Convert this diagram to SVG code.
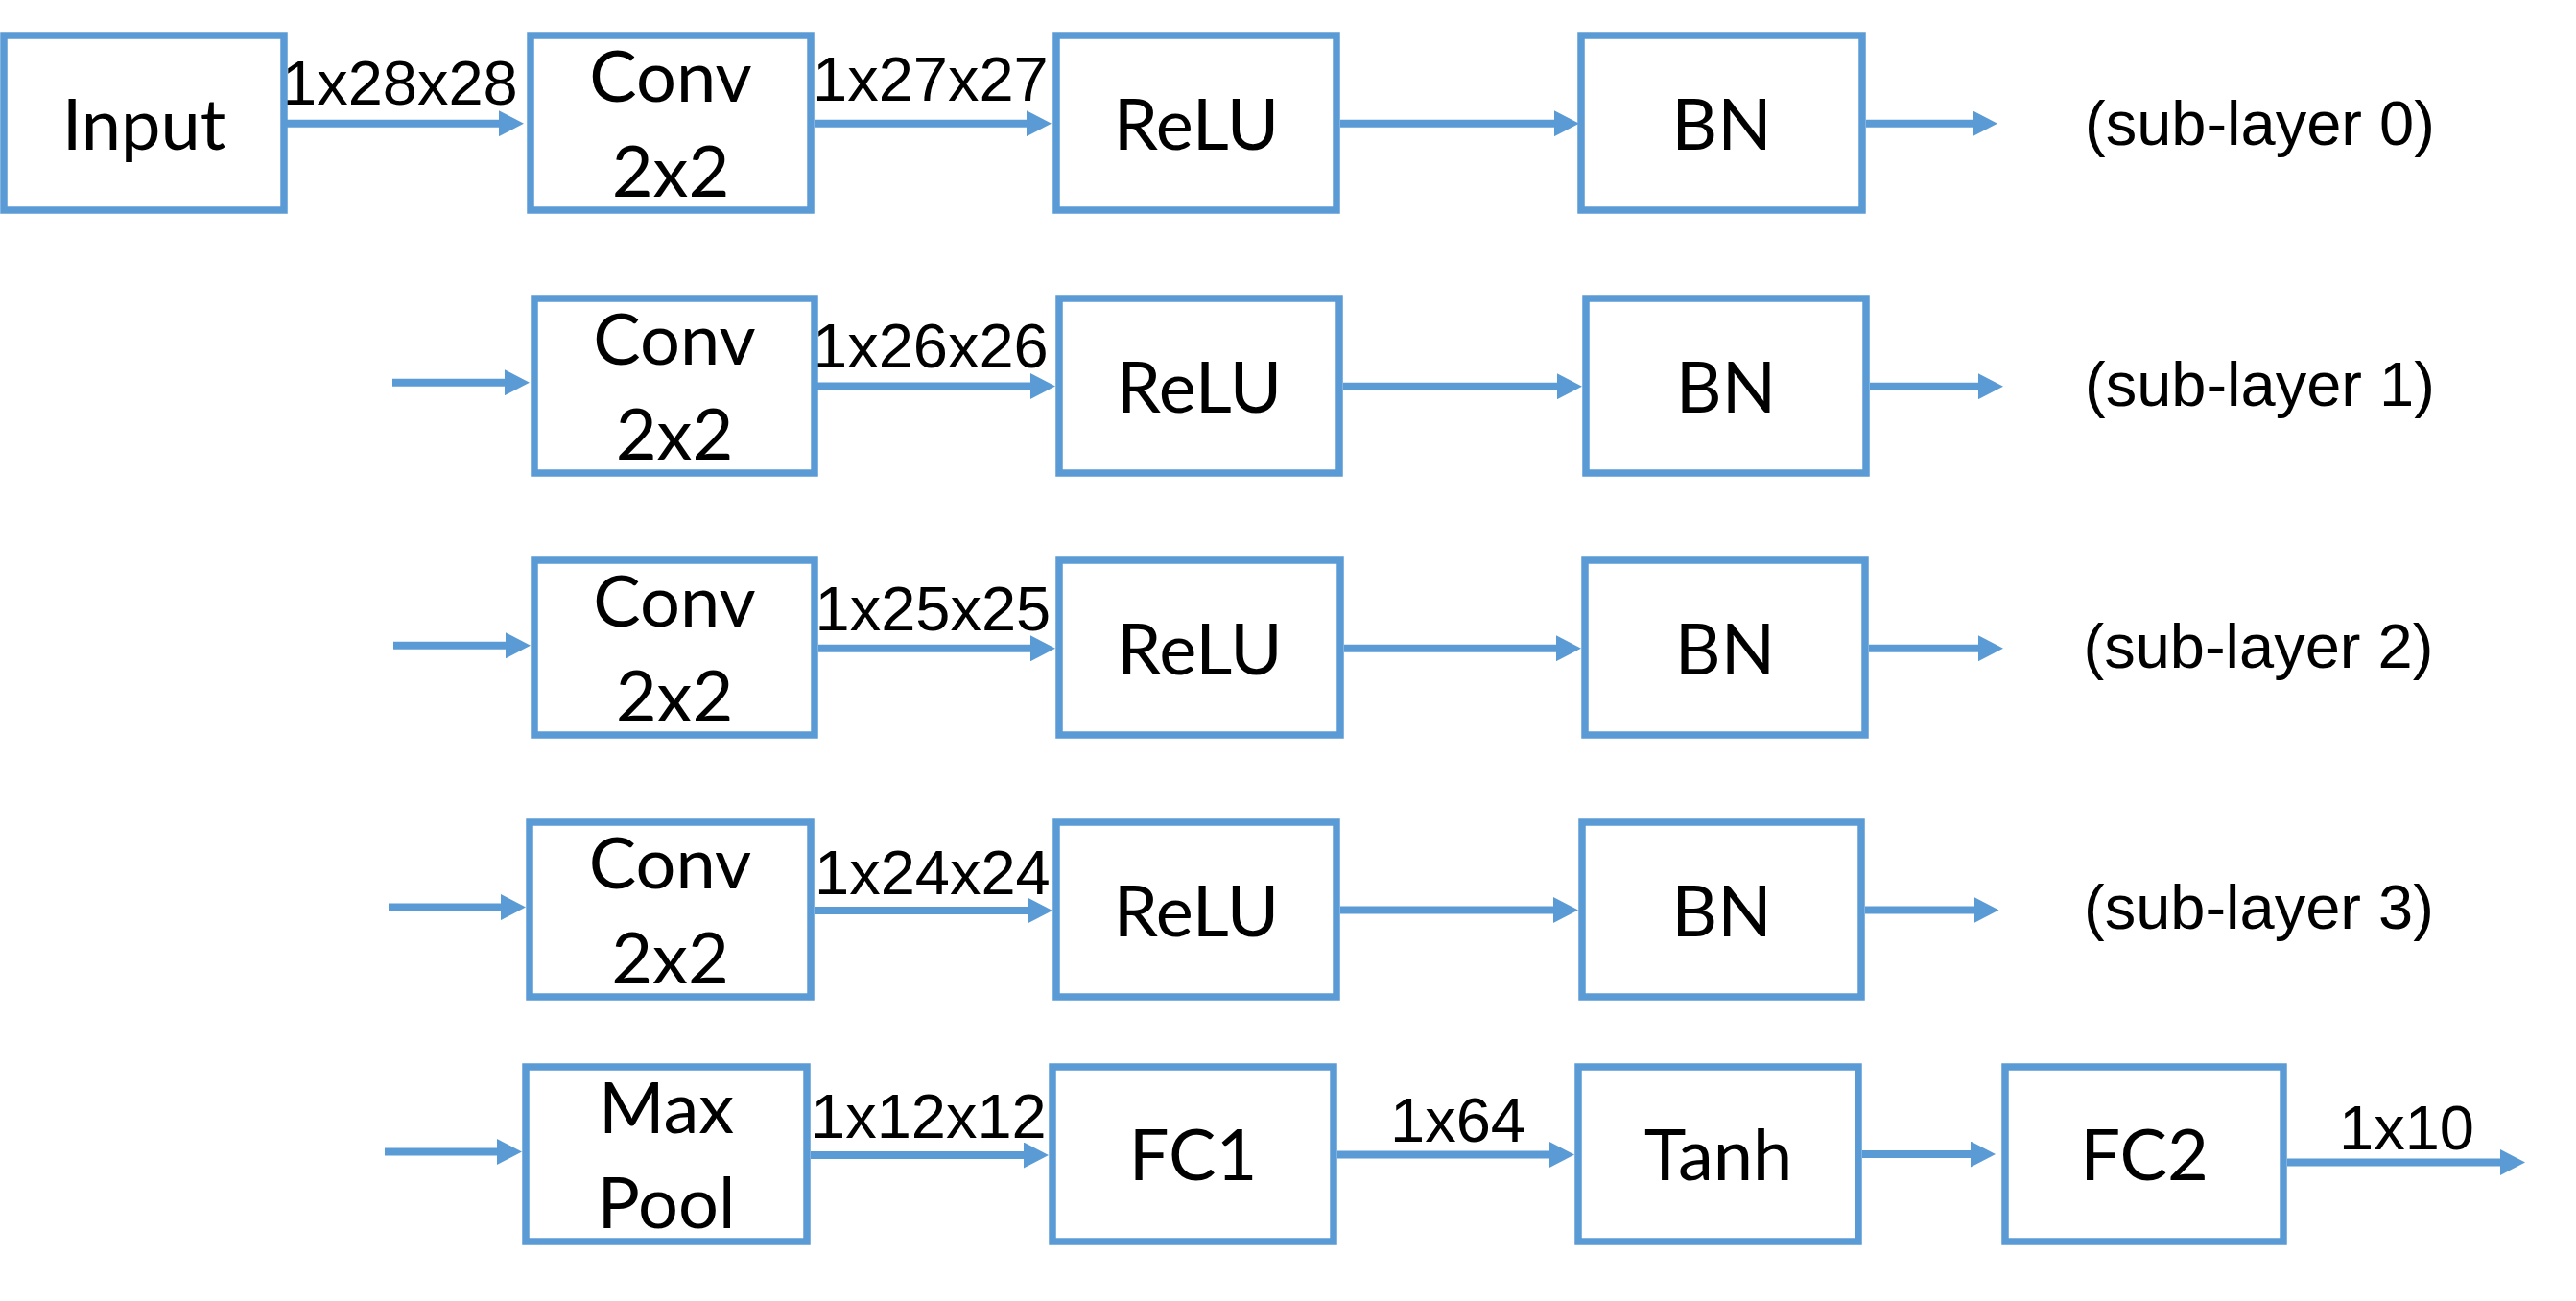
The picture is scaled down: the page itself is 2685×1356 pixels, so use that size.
<svg xmlns="http://www.w3.org/2000/svg" width="2685" height="1356" viewBox="0 0 2685 1356">
<style>
.box{fill:#fff;stroke:#5B9BD5;stroke-width:7.5}
.nt{font-family:Lato,"Liberation Sans",sans-serif;font-size:74px;fill:#000;text-anchor:middle}
.lb{font-family:"Liberation Sans",Arial,sans-serif;font-size:65px;fill:#000}
.cn line{stroke:#5B9BD5;stroke-width:8;marker-end:url(#ah)}
</style>
<defs>
<marker id="ah" markerUnits="userSpaceOnUse" markerWidth="26" markerHeight="27" viewBox="0 0 26 27" refX="2" refY="13.5" orient="auto">
<path d="M0,0 L26,13.5 L0,27 Z" fill="#5B9BD5"/>
</marker>
</defs>
<rect width="2685" height="1356" fill="#fff"/>
<g id="connectors" class="cn">
<line x1="299" y1="128.7" x2="522" y2="128.7"/>
<line x1="849" y1="128.7" x2="1072" y2="128.7"/>
<line x1="1397" y1="128.7" x2="1622" y2="128.7"/>
<line x1="1945" y1="128.7" x2="2058" y2="128.7"/>
<line x1="409" y1="398.7" x2="528" y2="398.7"/>
<line x1="852" y1="402.5" x2="1076" y2="402.5"/>
<line x1="1400" y1="402.7" x2="1625" y2="402.7"/>
<line x1="1949" y1="402.7" x2="2064" y2="402.7"/>
<line x1="410" y1="672.8" x2="529" y2="672.8"/>
<line x1="853" y1="675.8" x2="1076" y2="675.8"/>
<line x1="1401" y1="675.7" x2="1624" y2="675.7"/>
<line x1="1948" y1="675.7" x2="2064" y2="675.7"/>
<line x1="405" y1="945.6" x2="524" y2="945.6"/>
<line x1="849" y1="949" x2="1073" y2="949"/>
<line x1="1397" y1="948.5" x2="1621" y2="948.5"/>
<line x1="1944" y1="948.5" x2="2059.5" y2="948.5"/>
<line x1="401" y1="1200.5" x2="520" y2="1200.5"/>
<line x1="845" y1="1204" x2="1069" y2="1204"/>
<line x1="1394" y1="1203.5" x2="1617" y2="1203.5"/>
<line x1="1941" y1="1203" x2="2056" y2="1203"/>
<line x1="2384" y1="1211.5" x2="2608" y2="1211.5"/>
</g>
<g id="labels">
<text class="lb" x="294" y="109">1x28x28</text>
<text class="lb" x="847" y="105">1x27x27</text>
<text class="lb" x="847" y="383">1x26x26</text>
<text class="lb" x="849.5" y="656.7">1x25x25</text>
<text class="lb" x="849" y="932">1x24x24</text>
<text class="lb" x="845" y="1186">1x12x12</text>
<text class="lb" x="1449" y="1190">1x64</text>
<text class="lb" x="2438" y="1198">1x10</text>
<text class="lb" x="2173" y="151">(sub-layer 0)</text>
<text class="lb" x="2173" y="423">(sub-layer 1)</text>
<text class="lb" x="2171.5" y="696">(sub-layer 2)</text>
<text class="lb" x="2172" y="967.5">(sub-layer 3)</text>
</g>
<g id="input"><rect class="box" x="4" y="37" width="292" height="182"/><text class="nt" x="150" y="156">Input</text></g>
<g id="conv0"><rect class="box" x="553" y="37" width="292" height="182"/><text class="nt" x="699" y="106">Conv</text><text class="nt" x="699" y="205">2x2</text></g>
<g id="relu0"><rect class="box" x="1101" y="37" width="292" height="182"/><text class="nt" x="1247" y="156">ReLU</text></g>
<g id="bn0"><rect class="box" x="1648" y="37" width="293" height="182"/><text class="nt" x="1794.5" y="156">BN</text></g>
<g id="conv1"><rect class="box" x="557" y="311" width="292" height="182"/><text class="nt" x="703" y="380">Conv</text><text class="nt" x="703" y="479">2x2</text></g>
<g id="relu1"><rect class="box" x="1104" y="311" width="292" height="182"/><text class="nt" x="1250" y="430">ReLU</text></g>
<g id="bn1"><rect class="box" x="1653" y="311" width="292" height="182"/><text class="nt" x="1799" y="430">BN</text></g>
<g id="conv2"><rect class="box" x="557" y="584" width="292" height="182"/><text class="nt" x="703" y="653">Conv</text><text class="nt" x="703" y="752">2x2</text></g>
<g id="relu2"><rect class="box" x="1104" y="584" width="293" height="182"/><text class="nt" x="1250.5" y="703">ReLU</text></g>
<g id="bn2"><rect class="box" x="1652" y="584" width="292" height="182"/><text class="nt" x="1798" y="703">BN</text></g>
<g id="conv3"><rect class="box" x="552" y="857" width="293" height="182"/><text class="nt" x="698.5" y="926">Conv</text><text class="nt" x="698.5" y="1025">2x2</text></g>
<g id="relu3"><rect class="box" x="1101" y="857" width="292" height="182"/><text class="nt" x="1247" y="976">ReLU</text></g>
<g id="bn3"><rect class="box" x="1649" y="857" width="291" height="182"/><text class="nt" x="1794.5" y="976">BN</text></g>
<g id="maxpool"><rect class="box" x="548" y="1112" width="293" height="182"/><text class="nt" x="694.5" y="1181">Max</text><text class="nt" x="694.5" y="1280">Pool</text></g>
<g id="fc1"><rect class="box" x="1097" y="1112" width="293" height="182"/><text class="nt" x="1243.5" y="1230">FC1</text></g>
<g id="tanh"><rect class="box" x="1645" y="1112" width="292" height="182"/><text class="nt" x="1791" y="1230">Tanh</text></g>
<g id="fc2"><rect class="box" x="2090" y="1112" width="290" height="182"/><text class="nt" x="2235" y="1230">FC2</text></g>
</svg>
